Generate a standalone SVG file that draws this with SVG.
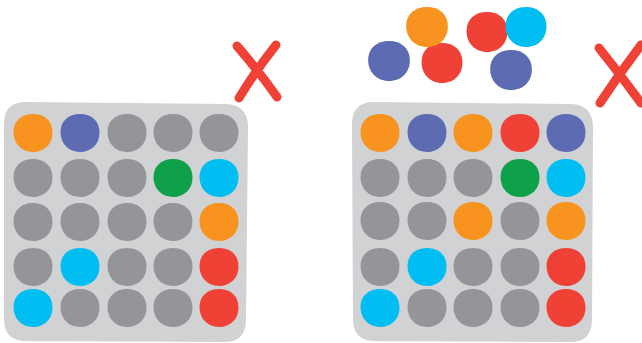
<svg xmlns="http://www.w3.org/2000/svg" xmlns:xlink="http://www.w3.org/1999/xlink" width="642" height="343" viewBox="0 0 642 343">
<style>
.o{fill:#F7931E}.p{fill:#5C6BB2}.g{fill:#939598}.n{fill:#0FA14A}.c{fill:#00BDF2}.r{fill:#EF4136}
.panel{fill:#D1D2D4}
.x{fill:none;stroke:#EF4136;stroke-width:9;stroke-linecap:round}
</style>
<defs>
<path id="b" d="M -19.5,-1 C -19.5,-12 -11.5,-19 0,-19 C 11.5,-19 19.5,-12 19.5,-0.5 C 19.5,11 11.5,19 0,19 C -11.5,19 -19.5,10.5 -19.5,-1 Z"/>
</defs>
<g id="left-panel">
<path class="panel" d="M 26,102 L 226,104 Q 248,105 248,127 L 246,320 Q 246,342 224,342 L 26,341 Q 4,341 4,319 L 4,124 Q 4,102 26,102 Z"/>
<use href="#b" x="33" y="133" class="o"/><use href="#b" x="80" y="133" class="p"/><use href="#b" x="127" y="133" class="g"/><use href="#b" x="173" y="133" class="g"/><use href="#b" x="219" y="133" class="g"/>
<use href="#b" x="33" y="178" class="g"/><use href="#b" x="80" y="178" class="g"/><use href="#b" x="127" y="178" class="g"/><use href="#b" x="173" y="178" class="n"/><use href="#b" x="219" y="178" class="c"/>
<use href="#b" x="33" y="222" class="g"/><use href="#b" x="80" y="222" class="g"/><use href="#b" x="127" y="222" class="g"/><use href="#b" x="173" y="222" class="g"/><use href="#b" x="219" y="222" class="o"/>
<use href="#b" x="33" y="267" class="g"/><use href="#b" x="80" y="267" class="c"/><use href="#b" x="127" y="267" class="g"/><use href="#b" x="173" y="267" class="g"/><use href="#b" x="219" y="267" class="r"/>
<use href="#b" x="33" y="308" class="c"/><use href="#b" x="80" y="308" class="g"/><use href="#b" x="127" y="308" class="g"/><use href="#b" x="173" y="308" class="g"/><use href="#b" x="219" y="308" class="r"/>
</g>
<g id="left-x">
<path class="x" d="M 237,46 Q 258,70 277,97 M 276,45 Q 256,70 239,98"/>
</g>
<g id="right-panel">
<path class="panel" d="M 374,102 L 571,104 Q 593,105 593,127 L 592,320 Q 592,342 570,342 L 375,341 Q 353,341 353,319 L 352,124 Q 352,102 374,102 Z"/>
<use href="#b" x="380" y="133" class="o"/><use href="#b" x="427" y="133" class="p"/><use href="#b" x="473" y="133" class="o"/><use href="#b" x="520" y="133" class="r"/><use href="#b" x="566" y="133" class="p"/>
<use href="#b" x="380" y="178" class="g"/><use href="#b" x="427" y="178" class="g"/><use href="#b" x="473" y="178" class="g"/><use href="#b" x="520" y="178" class="n"/><use href="#b" x="566" y="178" class="c"/>
<use href="#b" x="380" y="221" class="g"/><use href="#b" x="427" y="221" class="g"/><use href="#b" x="473" y="221" class="o"/><use href="#b" x="520" y="221" class="g"/><use href="#b" x="566" y="221" class="o"/>
<use href="#b" x="380" y="267" class="g"/><use href="#b" x="427" y="267" class="c"/><use href="#b" x="473" y="267" class="g"/><use href="#b" x="520" y="267" class="g"/><use href="#b" x="566" y="267" class="r"/>
<use href="#b" x="380" y="308" class="c"/><use href="#b" x="427" y="308" class="g"/><use href="#b" x="473" y="308" class="g"/><use href="#b" x="520" y="308" class="g"/><use href="#b" x="566" y="308" class="r"/>
</g>
<g id="floating">
<use href="#b" transform="translate(389,61) scale(1.07,1.05)" class="p"/>
<use href="#b" transform="translate(442,63) scale(1.05,1.05)" class="r"/>
<use href="#b" transform="translate(427,27) scale(1.07,1.05)" class="o"/>
<use href="#b" transform="translate(487,32) scale(1.05,1.05)" class="r"/>
<use href="#b" transform="translate(526,27) scale(1.05,1.05)" class="c"/>
<use href="#b" transform="translate(511,70) scale(1.07,1.05)" class="p"/>
</g>
<g id="right-x">
<path class="x" d="M 599,48 Q 620,74 641,103 M 641,45 Q 619,74 600,103"/>
</g>
</svg>
